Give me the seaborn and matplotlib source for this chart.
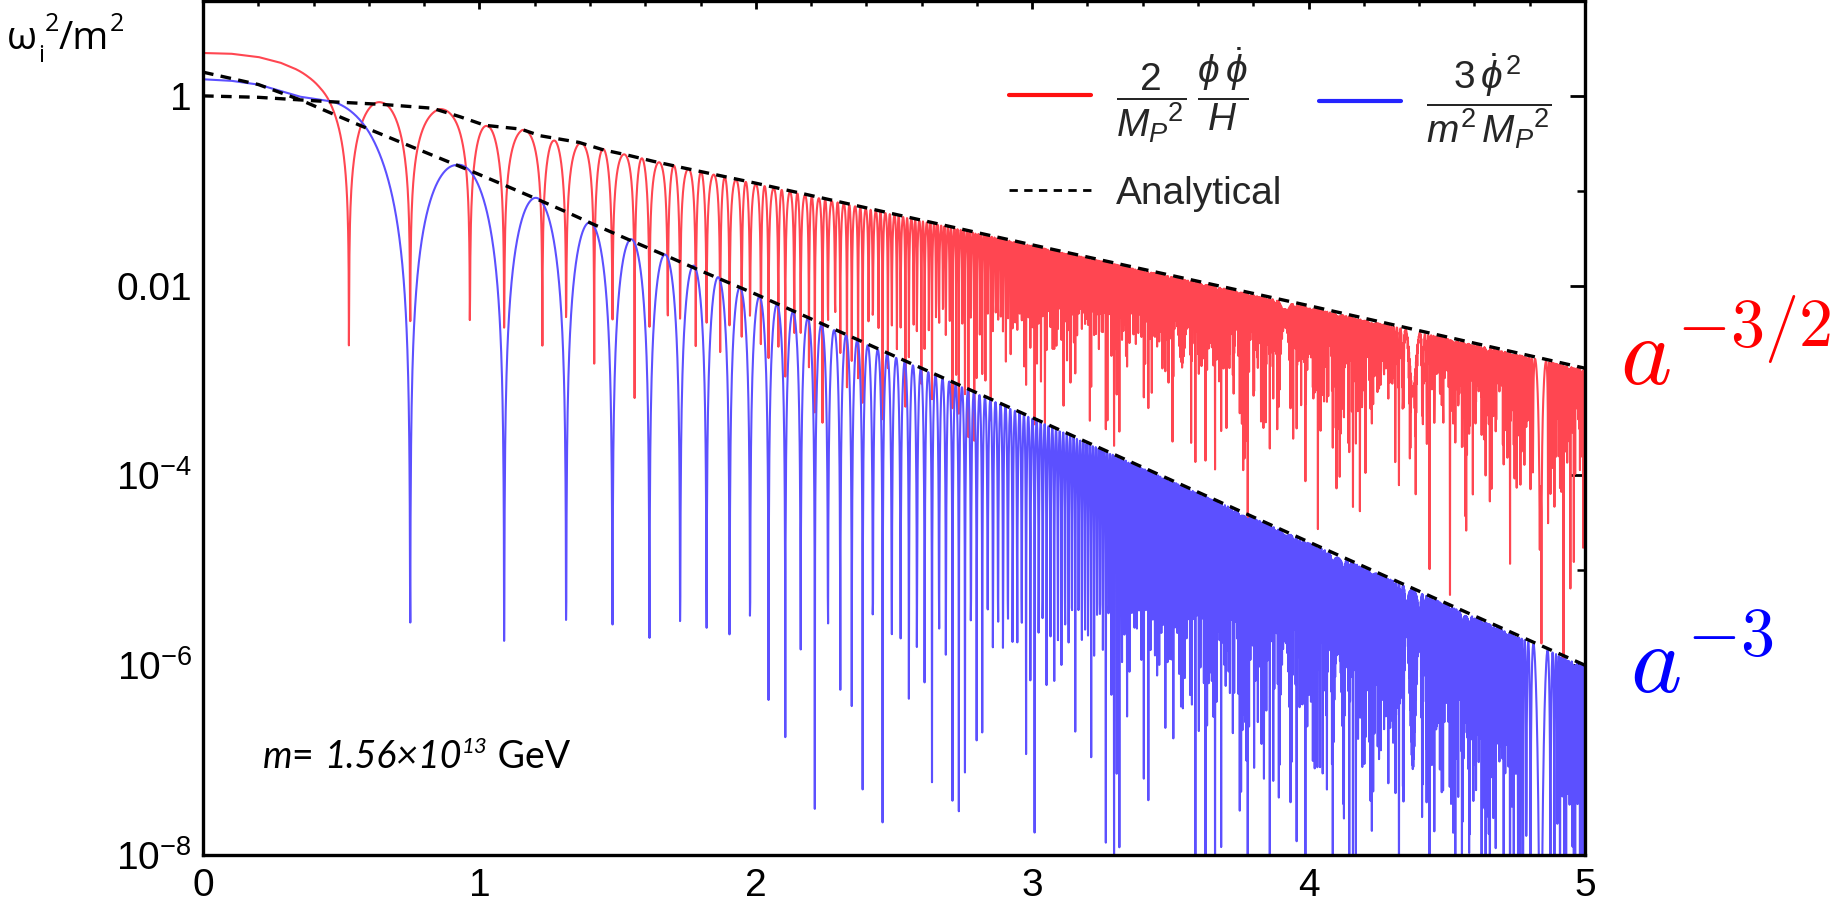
import numpy as np
import pandas as pd
import seaborn as sns
import matplotlib
matplotlib.use("Agg")
import matplotlib.pyplot as plt
from matplotlib.lines import Line2D
from matplotlib.ticker import FixedLocator, FixedFormatter, NullFormatter

# ---------------- data ----------------
# x = ln a ; values given as log10 of omega_i^2/m^2
# analytical (dashed) envelopes
ana_red_x   = [0.0, 0.2, 0.45, 0.65, 0.83, 0.93, 1.02, 1.15, 1.22, 1.36, 1.45, 1.53, 1.63, 1.74, 2.0, 3.0, 4.0, 5.0]
ana_red_log = [0.0, -0.015, -0.06, -0.09, -0.13, -0.22, -0.31, -0.35, -0.42, -0.49, -0.57, -0.62, -0.69, -0.76, -0.92, -1.57, -2.21, -2.87]
ana_blue_x   = [0.0, 0.2, 0.35, 0.47, 0.6, 0.75, 0.96, 1.09, 1.21, 1.32, 1.41, 1.56, 1.68, 1.79, 2.0, 3.0, 4.0, 5.0]
ana_blue_log = [0.25, 0.12, -0.04, -0.19, -0.35, -0.53, -0.78, -0.94, -1.09, -1.23, -1.35, -1.54, -1.69, -1.83, -2.09, -3.39, -4.70, -6.0]

# numerical curves: peak amplitude (equal to the curve itself before oscillations start)
num_red_x   = [0.0, 0.1, 0.2, 0.28, 0.33, 0.38, 0.42, 0.45, 0.55, 0.647, 0.856, 0.93, 1.03, 1.155, 1.268, 1.36, 1.5, 2.0, 3.0, 4.0, 5.0]
num_red_log = [0.452, 0.445, 0.41, 0.35, 0.29, 0.22, 0.17, 0.14, 0.0, -0.07, -0.13, -0.2, -0.32, -0.35, -0.47, -0.49, -0.6, -0.93, -1.58, -2.23, -2.89]
num_blue_x   = [0.0, 0.1, 0.2, 0.35, 0.47, 0.6, 0.75, 0.913, 1.212, 1.405, 1.55, 1.67, 1.785, 2.0, 3.0, 4.0, 5.0]
num_blue_log = [0.175, 0.16, 0.12, -0.008, -0.06, -0.2, -0.4, -0.70, -1.08, -1.34, -1.51, -1.67, -1.80, -2.10, -3.40, -4.71, -6.02]

# positions of the dips of the blue curve (phi_dot = 0)
blue_dip_x = [0.743, 1.09, 1.317, 1.483, 1.615, 1.725]
blue_dip_n = [1, 2, 3, 4, 5, 6]
red_phase_shift = 0.5   # shift of the phi = 0 dips of the red curve (rad)

x_major = [0, 1, 2, 3, 4, 5]
x_major_labels = ["0", "1", "2", "3", "4", "5"]
x_minor = [0.2, 0.4, 0.6, 0.8, 1.2, 1.4, 1.6, 1.8, 2.2, 2.4, 2.6, 2.8,
           3.2, 3.4, 3.6, 3.8, 4.2, 4.4, 4.6, 4.8]
y_major = [1e-8, 1e-6, 1e-4, 1e-2, 1.0]
y_major_labels = [r"$10^{-8}$", r"$10^{-6}$", r"$10^{-4}$", "0.01", "1"]
y_minor = [1e-7, 1e-5, 1e-3, 1e-1, 10.0]

label_red = r"$\dfrac{2}{{M_P}^{2}}\;\dfrac{\phi\,\dot{\phi}}{H}$"
label_ana = "Analytical"
label_blue = r"$\dfrac{3\,\dot{\phi}^{\,2}}{m^2\,{M_P}^{2}}$"

# ---------------- build the numerical curves ----------------
x = np.linspace(0.0, 5.0, 5201)
E = np.exp(1.5 * np.array(blue_dip_x))
slope, icpt = np.polyfit(E, blue_dip_n, 1)
theta = np.pi * (slope * np.exp(1.5 * x) + icpt)
psi = 2 * theta - red_phase_shift * (1 - np.cos(2 * theta)) / 2
f_red = np.where(psi < np.pi / 2, 1.0, np.abs(np.sin(psi)))
f_blue = np.where(theta < np.pi / 2, 1.0, np.sin(theta) ** 2)
red_vals = 10 ** np.interp(x, num_red_x, num_red_log) * f_red
blue_vals = 10 ** np.interp(x, num_blue_x, num_blue_log) * f_blue
red_vals = np.maximum(red_vals, 1e-30)
blue_vals = np.maximum(blue_vals, 1e-30)

df_num = pd.DataFrame({"x": x, "red": red_vals, "blue": blue_vals})

# ---------------- figure ----------------
sns.set_theme(style="white")
plt.rcParams["font.family"] = ["Liberation Sans", "DejaVu Sans"]
plt.rcParams["mathtext.fontset"] = "custom"
plt.rcParams["mathtext.rm"] = "Liberation Sans"
plt.rcParams["mathtext.it"] = "Liberation Sans:italic"
plt.rcParams["mathtext.bf"] = "Liberation Sans:bold"
plt.rcParams["mathtext.sf"] = "Liberation Sans"

W, H = 1840, 902
fig = plt.figure(figsize=(W / 100, H / 100), dpi=100)
ax = fig.add_axes([203 / W, 47 / H, (1585 - 203) / W, (855 - 1) / H])

RED = "#ff4651"
BLUE = "#5c50ff"
sns.lineplot(data=df_num, x="x", y="red", ax=ax, color=RED, lw=1.5,
             estimator=None, sort=False, zorder=2)
sns.lineplot(data=df_num, x="x", y="blue", ax=ax, color=BLUE, lw=1.5,
             estimator=None, sort=False, zorder=2)
dash = (0, (3.2, 2.2))
sns.lineplot(x=ana_red_x, y=10 ** np.array(ana_red_log), ax=ax, color="black",
             lw=2.4, linestyle=dash, estimator=None, sort=False, zorder=3)
sns.lineplot(x=ana_blue_x, y=10 ** np.array(ana_blue_log), ax=ax, color="black",
             lw=2.4, linestyle=dash, estimator=None, sort=False, zorder=3)

ax.set_yscale("log")
ax.set_xlim(0, 5)
ax.set_ylim(1e-8, 10)
ax.set_xlabel("")
ax.set_ylabel("")

ax.xaxis.set_major_locator(FixedLocator(x_major))
ax.xaxis.set_major_formatter(FixedFormatter(x_major_labels))
ax.xaxis.set_minor_locator(FixedLocator(x_minor))
ax.xaxis.set_minor_formatter(NullFormatter())
ax.yaxis.set_major_locator(FixedLocator(y_major))
ax.yaxis.set_major_formatter(FixedFormatter(y_major_labels))
ax.yaxis.set_minor_locator(FixedLocator(y_minor))
ax.yaxis.set_minor_formatter(NullFormatter())

ax.tick_params(which="both", direction="in", top=True, right=True, color="black",
               labelcolor="black")
ax.tick_params(axis="x", which="major", length=6, width=2.0, pad=9, labelsize=28)
ax.tick_params(axis="x", which="minor", length=3.5, width=1.8)
ax.tick_params(axis="y", which="major", length=11, width=2.0, pad=8, labelsize=28)
ax.tick_params(axis="y", which="minor", length=6, width=1.8)
for sp in ax.spines.values():
    sp.set_visible(True)
    sp.set_color("black")
    sp.set_linewidth(2.4)
ax.grid(False)

# legend (two pieces, Mathematica-style layout)
h_red = Line2D([], [], color="#ff1010", lw=3.0)
h_ana = Line2D([], [], color="black", lw=2.0, linestyle=(0, (3.0, 2.3)))
h_blue = Line2D([], [], color="#2424ff", lw=3.0)
leg_common = dict(frameon=False, fontsize=28, handlelength=2.1, handletextpad=0.65,
                  borderpad=0, borderaxespad=0)
leg1 = ax.legend([h_red, h_ana], [label_red, label_ana], loc="upper left",
                 bbox_to_anchor=((1009 - 203) / 1382, (855 - 45) / 854),
                 labelspacing=0.8, **leg_common)
ax.add_artist(leg1)
leg2 = ax.legend([h_blue], [label_blue], loc="center left",
                 bbox_to_anchor=((1319 - 203) / 1382, (855 - 101) / 854),
                 **leg_common)

# outside annotations
fig.text(1620 / W, 1 - 385 / H, r"$a^{-3/2}$", color="red", fontsize=70,
         math_fontfamily="cm", ha="left", va="baseline")
fig.text(1630 / W, 1 - 693 / H, r"$a^{-3}$", color="blue", fontsize=70,
         math_fontfamily="cm", ha="left", va="baseline")


def chain(x0, y0, pieces):
    """pieces: (text, size, style, dy_points, family)"""
    first = pieces[0]
    t = fig.text(x0, y0, first[0], fontsize=first[1], fontstyle=first[2],
                 family=first[4], va="baseline", ha="left", color="black")
    base = t
    prev = t
    for s, size, style, dy, fam in pieces[1:]:
        if dy == 0:
            a = ax.annotate(s, xy=(1, 0), xycoords=(prev, base), xytext=(0, 0),
                            textcoords="offset points", fontsize=size, fontstyle=style,
                            family=fam, va="bottom", ha="left", annotation_clip=False,
                            color="black")
            base = a
        else:
            a = ax.annotate(s, xy=(1, 0), xycoords=(prev, base), xytext=(0.5, dy),
                            textcoords="offset points", fontsize=size, fontstyle=style,
                            family=fam, va="bottom", ha="left", annotation_clip=False,
                            color="black")
        prev = a
    return t


chain(7 / W, 1 - 49 / H, [
    ("ω", 28, "normal", 0, "Open Sans"),
    ("i", 17, "normal", -7, "Open Sans"),
    ("2", 18, "normal", 15, "Open Sans"),
    ("/m", 28, "normal", 0, "Open Sans"),
    ("2", 18, "normal", 15, "Open Sans"),
])

chain(263 / W, 1 - 768 / H, [
    ("m", 27, "italic", 0, "Lato"),
    ("= ", 27, "normal", 0, "Lato"),
    ("1.56×10", 27, "italic", 0, "Lato"),
    ("13", 16, "italic", 13, "Lato"),
    (" GeV", 27, "normal", 0, "Lato"),
])

fig.savefig("out.png", dpi=100)
